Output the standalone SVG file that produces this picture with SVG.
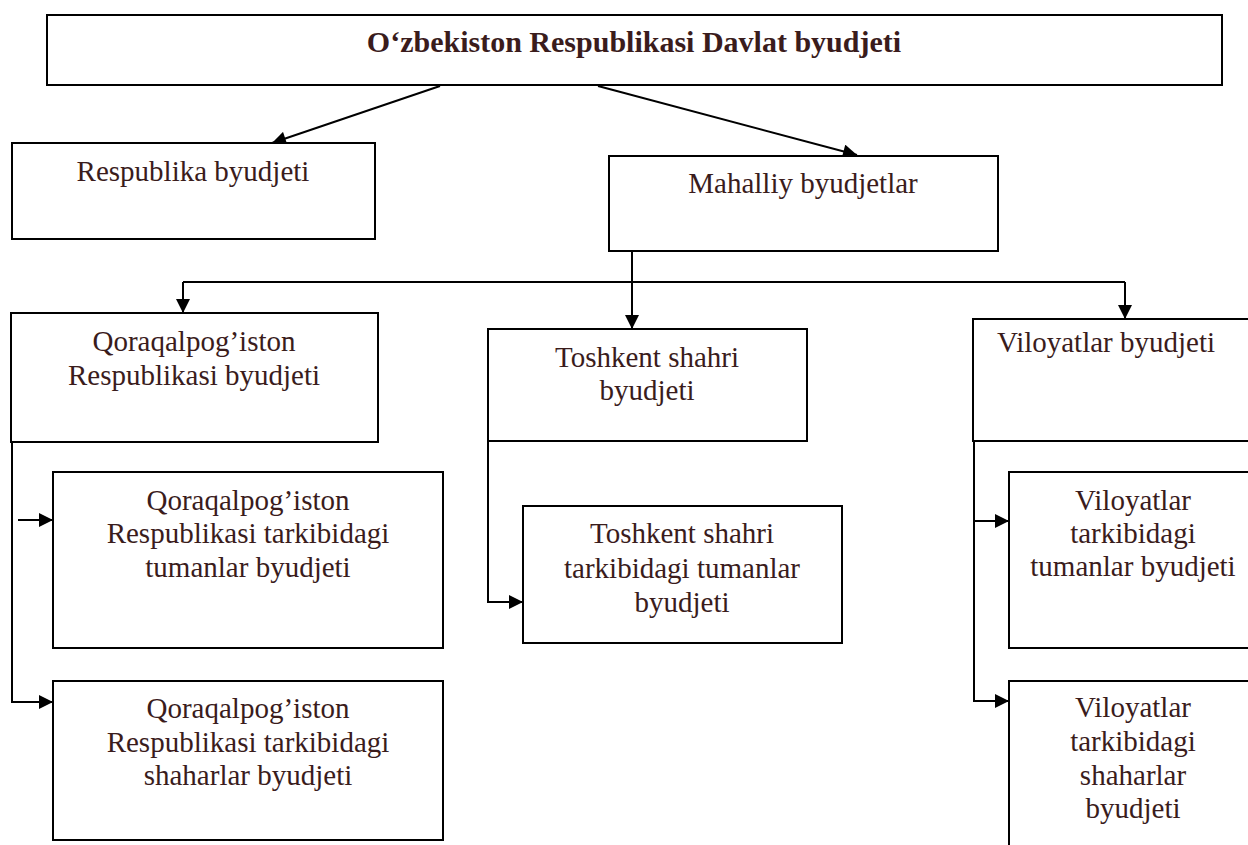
<svg xmlns="http://www.w3.org/2000/svg" width="1248" height="845" viewBox="0 0 1248 845">
<style>
.box{fill:#fff;stroke:#000;stroke-width:2}
.t{font-family:"Liberation Serif","Times New Roman",serif;font-size:29px;fill:#3a1c1c;text-anchor:middle}
.b{font-weight:bold;font-size:30px}
.c{fill:none;stroke:#000;stroke-width:2}
</style>
<defs>
<marker id="ar" viewBox="0 0 10 10" refX="10" refY="5" markerWidth="15" markerHeight="14" markerUnits="userSpaceOnUse" orient="auto">
<path d="M0,0 L10,5 L0,10 z" fill="#000"/>
</marker>
</defs>
<rect width="1248" height="845" fill="#fff"/>
<g id="connectors">
<line class="c" x1="440" y1="86" x2="272" y2="143" marker-end="url(#ar)"/>
<line class="c" x1="598" y1="86" x2="857" y2="155" marker-end="url(#ar)"/>
<polyline class="c" points="632,251 632,329" marker-end="url(#ar)"/>
<polyline class="c" points="183,282 1125,282"/>
<polyline class="c" points="183,282 183,313" marker-end="url(#ar)"/>
<polyline class="c" points="1125,282 1125,319" marker-end="url(#ar)"/>
<polyline class="c" points="12,442 12,702 53,702" marker-end="url(#ar)"/>
<line class="c" x1="18" y1="520" x2="53" y2="520" marker-end="url(#ar)"/>
<polyline class="c" points="488,441 488,602 523,602" marker-end="url(#ar)"/>
<polyline class="c" points="974,441 974,701 1009,701" marker-end="url(#ar)"/>
<line class="c" x1="974" y1="521" x2="1009" y2="521" marker-end="url(#ar)"/>
</g>
<g id="davlat">
<rect class="box" x="47" y="15" width="1175" height="70"/>
<text class="t b" x="634" y="52">O‘zbekiston Respublikasi Davlat byudjeti</text>
</g>
<g id="respublika">
<rect class="box" x="12" y="143" width="363" height="96"/>
<text class="t" x="193" y="181">Respublika byudjeti</text>
</g>
<g id="mahalliy">
<rect class="box" x="609" y="156" width="389" height="95"/>
<text class="t" x="803" y="193">Mahalliy byudjetlar</text>
</g>
<g id="qoraqalpogiston">
<rect class="box" x="11" y="313" width="367" height="129"/>
<text class="t" x="194" y="351">Qoraqalpog’iston</text>
<text class="t" x="194" y="385">Respublikasi byudjeti</text>
</g>
<g id="qoraqalpogiston-tumanlar">
<rect class="box" x="53" y="472" width="390" height="176"/>
<text class="t" x="248" y="510">Qoraqalpog’iston</text>
<text class="t" x="248" y="543">Respublikasi tarkibidagi</text>
<text class="t" x="248" y="577">tumanlar byudjeti</text>
</g>
<g id="qoraqalpogiston-shaharlar">
<rect class="box" x="53" y="681" width="390" height="159"/>
<text class="t" x="248" y="718">Qoraqalpog’iston</text>
<text class="t" x="248" y="752">Respublikasi tarkibidagi</text>
<text class="t" x="248" y="785">shaharlar byudjeti</text>
</g>
<g id="toshkent">
<rect class="box" x="488" y="329" width="319" height="112"/>
<text class="t" x="647" y="367">Toshkent shahri</text>
<text class="t" x="647" y="400">byudjeti</text>
</g>
<g id="toshkent-tumanlar">
<rect class="box" x="523" y="506" width="319" height="137"/>
<text class="t" x="682" y="543">Toshkent shahri</text>
<text class="t" x="682" y="578">tarkibidagi tumanlar</text>
<text class="t" x="682" y="612">byudjeti</text>
</g>
<g id="viloyatlar">
<rect class="box" x="973" y="319" width="290" height="122"/>
<text class="t" x="1106" y="352">Viloyatlar byudjeti</text>
</g>
<g id="viloyatlar-tumanlar">
<rect class="box" x="1009" y="472" width="250" height="176"/>
<text class="t" x="1133" y="510">Viloyatlar</text>
<text class="t" x="1133" y="543">tarkibidagi</text>
<text class="t" x="1133" y="576">tumanlar byudjeti</text>
</g>
<g id="viloyatlar-shaharlar">
<rect class="box" x="1009" y="681" width="250" height="200"/>
<text class="t" x="1133" y="717">Viloyatlar</text>
<text class="t" x="1133" y="751">tarkibidagi</text>
<text class="t" x="1133" y="785">shaharlar</text>
<text class="t" x="1133" y="818">byudjeti</text>
</g>
</svg>
